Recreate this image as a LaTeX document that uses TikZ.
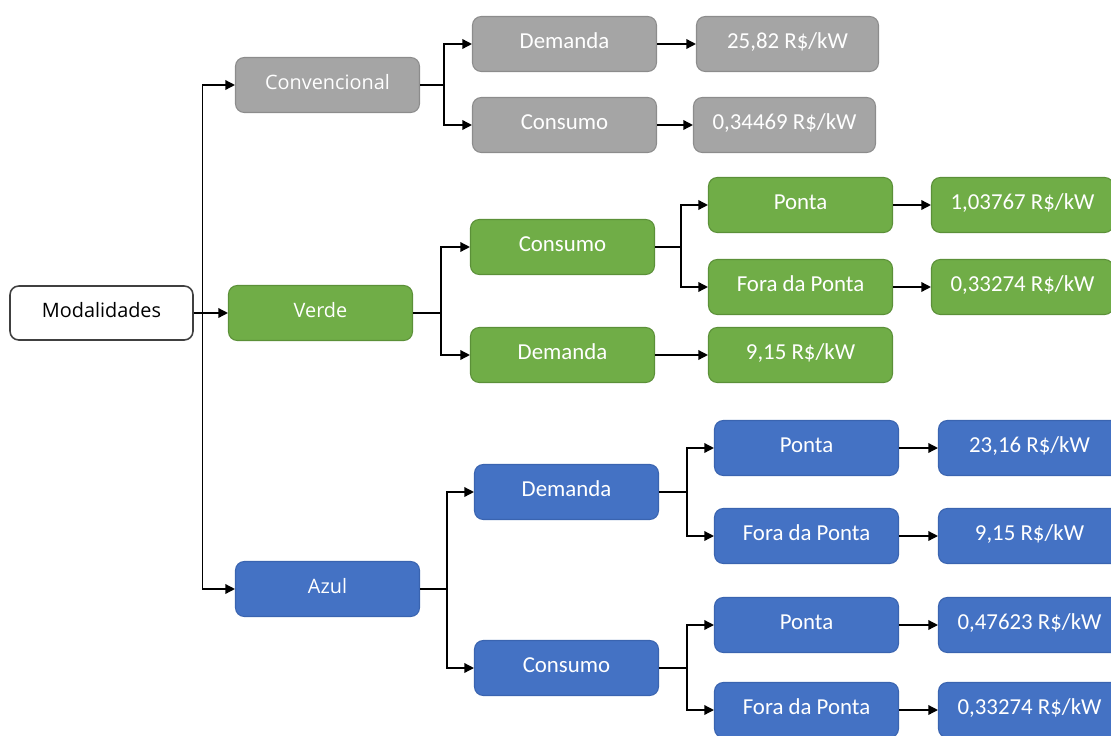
\documentclass[tikz,border=0pt]{standalone}
\usepackage{fontspec}
\setmainfont{Carlito}
\newfontfamily\opensans{Open Sans}
\usepackage{tikz}
\usetikzlibrary{arrows.meta}
\usetikzlibrary{positioning}
\definecolor{grayfill}{HTML}{A5A5A5}
\definecolor{grayline}{HTML}{8C8C8C}
\definecolor{greenfill}{HTML}{70AD47}
\definecolor{greenline}{HTML}{5B9038}
\definecolor{bluefill}{HTML}{4472C4}
\definecolor{blueline}{HTML}{3A64B0}
\tikzstyle{arrow} = [thick, -{Triangle[length=5.5pt, width=5.5pt]}]
\tikzstyle{root} = [rectangle, rounded corners=5pt, minimum width=3.66cm, minimum height=1.08cm, text centered, text height=9pt, text depth=4pt, draw=black!75, line width=0.9pt, font=\opensans\fontsize{11.3}{13}\selectfont]
\tikzstyle{box} = [rectangle, rounded corners=5pt, minimum width=3.68cm, minimum height=1.1cm, text centered, text height=9pt, text depth=4pt, text=white, line width=0.6pt, font=\fontsize{13}{15}\selectfont]
\tikzstyle{tier} = [font=\opensans\fontsize{11.3}{13}\selectfont]
\tikzstyle{valbox} = [minimum width=3.64cm]
\tikzstyle{convbox} = [box, fill=grayfill, draw=grayline]
\tikzstyle{verdebox} = [box, fill=greenfill, draw=greenline]
\tikzstyle{azulbox} = [box, fill=bluefill, draw=blueline]

\begin{document}
\begin{tikzpicture}[node distance=4.8cm]
            \useasboundingbox (0,0) rectangle (22.22,-14.72);

            \node (MOD) [root] at (2.03,-6.26) {Modalidades};
            \node (CONV) [convbox, tier, right of=MOD, xshift=-0.28cm, yshift=4.56cm] {Convencional};
            \node (VERDE) [verdebox, tier, right of=MOD, xshift=-0.42cm] {Verde};
            \node (AZUL) [azulbox, tier, right of=MOD, xshift=-0.28cm, yshift=-5.52cm] {Azul};

            % convencional
            \node (DEMC) [convbox, right of=CONV, xshift=-0.06cm, yshift=0.82cm] {Demanda};
            \node (CONSC) [convbox, right of=CONV, xshift=-0.06cm, yshift=-0.8cm] {Consumo};
            \node (DEMCVAL) [convbox, valbox, right of=DEMC, xshift=-0.34cm] {25,82 R\$/kW};
            \node (CONSCVAL) [convbox, valbox, right of=CONSC, xshift=-0.4cm] {0,34469 R\$/kW};

            % verde
            \node (CONSV) [verdebox, right of=VERDE, xshift=0.04cm, yshift=1.32cm] {Consumo};
            \node (DEMV) [verdebox, right of=VERDE, xshift=0.04cm, yshift=-0.84cm] {Demanda};
            \node (PONTAV) [verdebox, right of=CONSV, xshift=-0.04cm, yshift=0.84cm] {Ponta};
            \node (FORAV) [verdebox, right of=CONSV, xshift=-0.04cm, yshift=-0.8cm] {Fora da Ponta};
            \node (DEMVVAL) [verdebox, right of=DEMV, xshift=-0.04cm] {9,15 R\$/kW};
            \node (PONTAVVAL) [verdebox, valbox, right of=PONTAV, xshift=-0.36cm] {1,03767 R\$/kW};
            \node (FORAVVAL) [verdebox, valbox, right of=FORAV, xshift=-0.36cm] {0,33274 R\$/kW};

            % azul
            \node (DEMA) [azulbox, right of=AZUL, xshift=-0.02cm, yshift=1.94cm] {Demanda};
            \node (CONSA) [azulbox, right of=AZUL, xshift=-0.02cm, yshift=-1.58cm] {Consumo};
            \node (PONTAD) [azulbox, right of=DEMA, yshift=0.88cm] {Ponta};
            \node (FORAD) [azulbox, right of=DEMA, yshift=-0.88cm] {Fora da Ponta};
            \node (PONTAC) [azulbox, right of=CONSA, yshift=0.86cm] {Ponta};
            \node (FORAC) [azulbox, right of=CONSA, yshift=-0.84cm] {Fora da Ponta};
            \node (PONTADVAL) [azulbox, valbox, right of=PONTAD, xshift=-0.34cm] {23,16 R\$/kW};
            \node (FORADVAL) [azulbox, valbox, right of=FORAD, xshift=-0.34cm] {9,15 R\$/kW};
            \node (PONTACVAL) [azulbox, valbox, right of=PONTAC, xshift=-0.34cm] {0,47623 R\$/kW};
            \node (FORACVAL) [azulbox, valbox, right of=FORAC, xshift=-0.34cm] {0,33274 R\$/kW};

            \draw [arrow] (MOD.east) -- (VERDE.west);
            \draw [arrow] (MOD.east) -- ++(0.18,0) |- (CONV.west);
            \draw [arrow] (MOD.east) -- ++(0.18,0) |- (AZUL.west);

            \draw [arrow] (CONV.east) -- ++(0.48,0) |- (DEMC.west);
            \draw [arrow] (CONV.east) -- ++(0.48,0) |- (CONSC.west);
            \draw [arrow] (DEMC) -- (DEMCVAL);
            \draw [arrow] (CONSC) -- (CONSCVAL);

            \draw [arrow] (VERDE.east) -- ++(0.56,0) |- (CONSV.west);
            \draw [arrow] (VERDE.east) -- ++(0.56,0) |- (DEMV.west);
            \draw [arrow] (CONSV.east) -- ++(0.52,0) |- (PONTAV.west);
            \draw [arrow] (CONSV.east) -- ++(0.52,0) |- (FORAV.west);
            \draw [arrow] (DEMV) -- (DEMVVAL);
            \draw [arrow] (PONTAV) -- (PONTAVVAL);
            \draw [arrow] (FORAV) -- (FORAVVAL);

            \draw [arrow] (AZUL.east) -- ++(0.54,0) |- (DEMA.west);
            \draw [arrow] (AZUL.east) -- ++(0.54,0) |- (CONSA.west);
            \draw [arrow] (DEMA.east) -- ++(0.56,0) |- (PONTAD.west);
            \draw [arrow] (DEMA.east) -- ++(0.56,0) |- (FORAD.west);
            \draw [arrow] (CONSA.east) -- ++(0.56,0) |- (PONTAC.west);
            \draw [arrow] (CONSA.east) -- ++(0.56,0) |- (FORAC.west);
            \draw [arrow] (PONTAD) -- (PONTADVAL);
            \draw [arrow] (FORAD) -- (FORADVAL);
            \draw [arrow] (PONTAC) -- (PONTACVAL);
            \draw [arrow] (FORAC) -- (FORACVAL);

        \end{tikzpicture}
\end{document}
